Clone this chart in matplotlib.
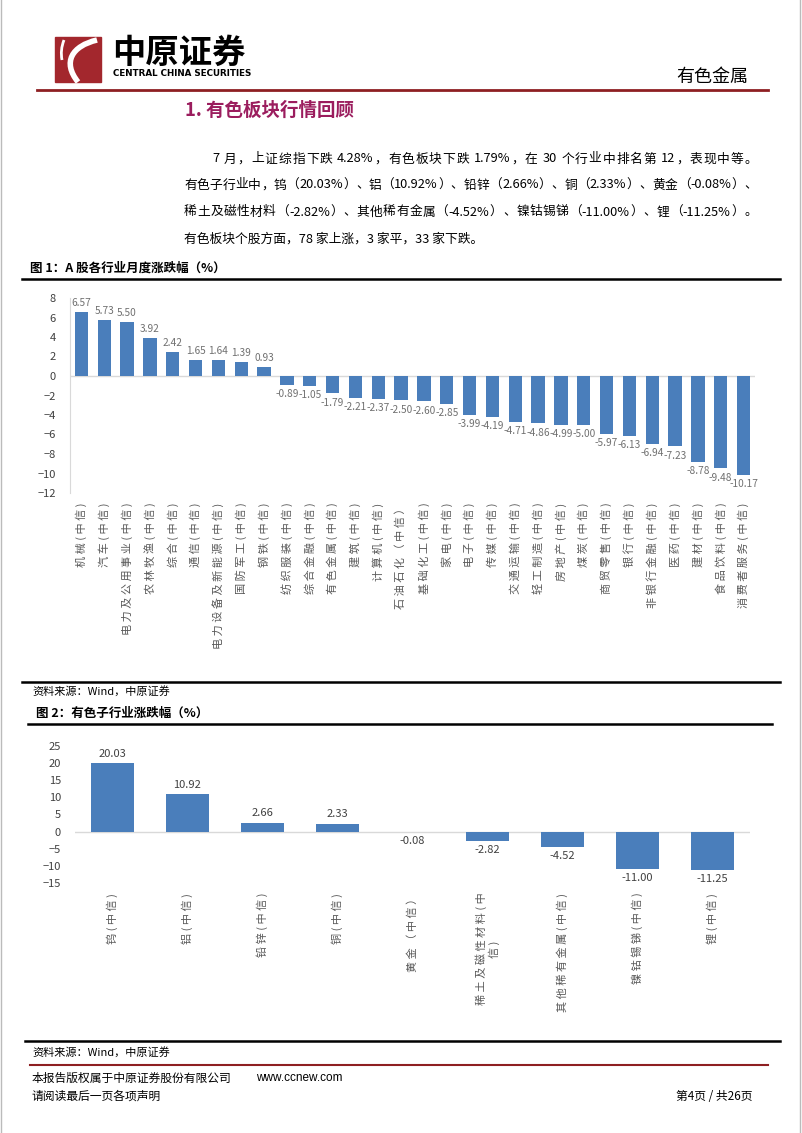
import re
import numpy as np
import matplotlib
matplotlib.use("Agg")
import matplotlib.pyplot as plt
from matplotlib.patches import Rectangle, PathPatch
from matplotlib.path import Path

plt.rcParams['font.family'] = ['Noto Sans CJK SC', 'DejaVu Sans']

W, H = 802, 1133

# ---- data: figure 1 (industries, monthly change %) ----
ind_labels = ['机械(中信)', '汽车(中信)', '电力及公用事业(中信)', '农林牧渔(中信)',
              '综合(中信)', '通信(中信)', '电力设备及新能源(中信)', '国防军工(中信)',
              '钢铁(中信)', '纺织服装(中信)', '综合金融(中信)', '有色金属(中信)',
              '建筑(中信)', '计算机(中信)', '石油石化（中信）', '基础化工(中信)',
              '家电(中信)', '电子(中信)', '传媒(中信)', '交通运输(中信)',
              '轻工制造(中信)', '房地产(中信)', '煤炭(中信)', '商贸零售(中信)',
              '银行(中信)', '非银行金融(中信)', '医药(中信)', '建材(中信)',
              '食品饮料(中信)', '消费者服务(中信)']
ind_values = [6.57, 5.73, 5.50, 3.92, 2.42, 1.65, 1.64, 1.39, 0.93, -0.89,
              -1.05, -1.79, -2.21, -2.37, -2.50, -2.60, -2.85, -3.99, -4.19, -4.71,
              -4.86, -4.99, -5.00, -5.97, -6.13, -6.94, -7.23, -8.78, -9.48, -10.17]
ind_yticks = list(range(-12, 9, 2))

# ---- data: figure 2 (non-ferrous sub-industries) ----
sub_labels = ['钨(中信)', '铝(中信)', '铅锌(中信)', '铜(中信)', '黄金（中信）',
              '稀土及磁性材料(中\n信)', '其他稀有金属(中信)', '镍钴锡锑(中信)', '锂(中信)']
sub_values = [20.03, 10.92, 2.66, 2.33, -0.08, -2.82, -4.52, -11.00, -11.25]
sub_yticks = list(range(-15, 26, 5))

para_lines = ['7 月，上证综指下跌 4.28%，有色板块下跌 1.79%，在 30 个行业中排名第 12，表现中等。',
              '有色子行业中，钨（20.03%）、铝（10.92%）、铅锌（2.66%）、铜（2.33%）、黄金（-0.08%）、',
              '稀土及磁性材料（-2.82%）、其他稀有金属（-4.52%）、镍钴锡锑（-11.00%）、锂（-11.25%）。',
              '有色板块个股方面，78 家上涨，3 家平，33 家下跌。']

BLUE = '#4A7EBB'
GRAY = '#595959'
RED = '#8E1F22'

fig = plt.figure(figsize=(W / 100, H / 100), dpi=100)
renderer = fig.canvas.get_renderer()

# page layer in pixel coordinates
bg = fig.add_axes([0, 0, 1, 1], zorder=0)
bg.set_xlim(0, W)
bg.set_ylim(H, 0)
bg.axis('off')


def text_w(s, fs):
    t = bg.text(0, 0, s, fontsize=fs)
    w = t.get_window_extent(renderer).width
    t.remove()
    return w


def justify(x0, x1, y, s, fs):
    toks = re.findall(r'[A-Za-z0-9.%\-]+|.', s)
    widths = [text_w('H' + t + 'H', fs) - text_w('HH', fs) for t in toks]
    gap = (x1 - x0 - sum(widths)) / (len(toks) - 1)
    x = x0
    for t, w in zip(toks, widths):
        if t != ' ':
            bg.text(x, y, t, fontsize=fs, va='baseline', ha='left')
        x += w + gap


def spaced(s):
    return '\n'.join(' '.join(part) for part in s.split('\n'))


# logo
bg.add_patch(Rectangle((55, 37), 46, 45, color='#A3272D'))
swoosh = Path([(97, 40), (72, 46), (62, 62), (78, 82)],
              [Path.MOVETO, Path.CURVE4, Path.CURVE4, Path.CURVE4])
bg.add_patch(PathPatch(swoosh, fill=False, edgecolor='white', lw=4, capstyle='butt'))
bg.add_patch(PathPatch(Path([(64, 40), (60, 50), (62, 60)],
                            [Path.MOVETO, Path.CURVE3, Path.CURVE3]),
                       fill=False, edgecolor='white', lw=2))
bg.text(112, 53, '中原证券', fontsize=24, fontweight='bold', va='center', ha='left')
bg.text(113, 74, 'CENTRAL CHINA SECURITIES', fontsize=6.3, fontweight='bold',
        va='center', ha='left', family=['DejaVu Sans'])
bg.text(748, 77, '有色金属', fontsize=13, va='center', ha='right')
bg.plot([37, 768], [90, 90], color=RED, lw=2)

# section title and paragraph
bg.text(185, 110, '1. 有色板块行情回顾', fontsize=13.3, fontweight='bold', color='#9B1D5E',
        va='center', ha='left')
PFS = 9.2
for i, (line, y) in enumerate(zip(para_lines, [158, 184, 211, 238])):
    if i < 3:
        justify(212 if i == 0 else 184, 757, y + 4.5, line, PFS)
    else:
        bg.text(184, y + 4.5, line, fontsize=PFS, va='baseline', ha='left')

# figure 1 header / footer
bg.text(30, 268, '图 1：A 股各行业月度涨跌幅（%）', fontsize=9, fontweight='bold', va='center')
bg.plot([22, 780], [279, 279], color='black', lw=1.8)
bg.plot([22, 780], [682, 682], color='black', lw=1.8)
bg.text(32, 691, '资料来源：Wind，中原证券', fontsize=8, va='center')

# figure 2 header / footer
bg.text(36, 713, '图 2：有色子行业涨跌幅（%）', fontsize=9, fontweight='bold', va='center')
bg.plot([28, 772], [724, 724], color='black', lw=1.8)
bg.plot([25, 780], [1041, 1041], color='black', lw=1.8)
bg.text(32, 1052, '资料来源：Wind，中原证券', fontsize=8, va='center')

# page footer
bg.plot([30, 768], [1065, 1065], color=RED, lw=1.5)
bg.text(32, 1078, '本报告版权属于中原证券股份有限公司', fontsize=8.5, va='center')
bg.text(256, 1078, 'www.ccnew.com', fontsize=8.5, va='center', family=['Liberation Sans'])
bg.text(32, 1096, '请阅读最后一页各项声明', fontsize=8.5, va='center')
bg.text(752, 1096, '第4页 / 共26页', fontsize=8.5, va='center', ha='right')
bg.plot([1, 1], [0, H], color='#BBBBBB', lw=1)
bg.plot([W - 2, W - 2], [0, H], color='#BBBBBB', lw=1)


def bar_panel(ax, labels, values, yticks, width, tick_fs, lab_fs, val_fs, val_color):
    x = np.arange(len(values))
    ax.bar(x, values, width=width, color=BLUE, zorder=2)
    ax.set_xlim(-0.5, len(values) - 0.5)
    ax.set_ylim(yticks[0], yticks[-1])
    ax.set_yticks(yticks)
    ax.axhline(0, color='#D9D9D9', lw=1, zorder=1)
    for s in ['top', 'right', 'bottom']:
        ax.spines[s].set_visible(False)
    ax.set_xticks(x)
    ax.set_xticklabels([spaced(l) for l in labels], rotation=90, va='top', ha='center',
                       fontsize=lab_fs, color=GRAY)
    ax.tick_params(axis='x', length=0, pad=7)
    ax.tick_params(axis='y', length=0, pad=10, labelsize=tick_fs, labelcolor='#404040')
    for xi, v in zip(x, values):
        ax.annotate(f'{v:.2f}', (xi, v), xytext=(0, 3 if v >= 0 else -3),
                    textcoords='offset points', ha='center',
                    va='bottom' if v >= 0 else 'top', fontsize=val_fs, color=val_color)
    ax.patch.set_alpha(0)


ax1 = fig.add_axes([70 / W, 1 - 493 / H, (755 - 70) / W, (493 - 298) / H], zorder=2)
bar_panel(ax1, ind_labels, ind_values, ind_yticks, 0.58, 8, 8, 7.3, '#707070')
ax1.spines['left'].set_color('#D9D9D9')

ax2 = fig.add_axes([75 / W, 1 - 883 / H, (750 - 75) / W, (883 - 746) / H], zorder=2)
bar_panel(ax2, sub_labels, sub_values, sub_yticks, 0.57, 8, 8, 8, '#404040')
ax2.spines['left'].set_visible(False)

fig.savefig('out.png', dpi=100)
